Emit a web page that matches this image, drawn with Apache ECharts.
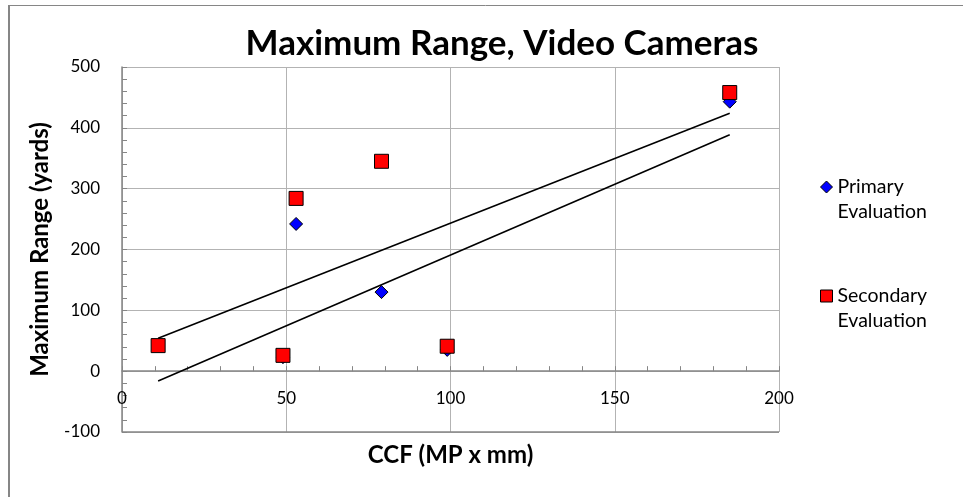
<!DOCTYPE html>
<html>
<head>
<meta charset="utf-8">
<script src="https://cdn.jsdelivr.net/npm/echarts@6/dist/echarts.min.js"></script>
<style>
html,body{margin:0;padding:0;background:#fff;}
#chart{width:963px;height:497px;}
</style>
</head>
<body>
<div id="chart"></div>
<script>
// ---- data ----
const ccf = [11, 49, 53, 79, 99, 185];
const primaryRange = [null, 23, 242, 130, 35, 443];
const secondaryRange = [42, 26, 284, 345, 41, 458];
const seriesNames = ['Primary Evaluation', 'Secondary Evaluation'];
const legendLabels = ['\nPrimary\nEvaluation', '\nSecondary\nEvaluation'];
const chartTitle = 'Maximum Range, Video Cameras';
const xTitle = 'CCF (MP x mm)';
const yTitle = 'Maximum Range (yards)';
const xMin = 0, xMax = 200, xStep = 50;
const yMin = -100, yMax = 500, yStep = 100;

function pairs(xs, ys) {
  const out = [];
  xs.forEach((x, i) => { if (ys[i] !== null && ys[i] !== undefined) out.push([x, ys[i]]); });
  return out;
}
function trend(xs, ys) {
  const p = pairs(xs, ys);
  const n = p.length;
  const mx = p.reduce((s, d) => s + d[0], 0) / n;
  const my = p.reduce((s, d) => s + d[1], 0) / n;
  let sxy = 0, sxx = 0;
  p.forEach(d => { sxy += (d[0] - mx) * (d[1] - my); sxx += (d[0] - mx) * (d[0] - mx); });
  const b = sxy / sxx, a = my - b * mx;
  const x0 = Math.min(...xs), x1 = Math.max(...xs);
  return [[x0, a + b * x0], [x1, a + b * x1]];
}

const FONT = 'Lato';
const W = 963, H = 497;
const gridTop = 67, gridBottom = 65;
const gridH = H - gridTop - gridBottom;
const zeroOffset = -gridH * (0 - yMin) / (yMax - yMin);

const chart = echarts.init(document.getElementById('chart'), null, {renderer: 'canvas'});
const labelMap = {};
seriesNames.forEach((n, i) => labelMap[n] = legendLabels[i]);

const legendCommon = {
  orient: 'vertical',
  left: 820,
  padding: 0,
  itemWidth: 12,
  itemHeight: 12,
  itemStyle: {borderColor: '#000', borderWidth: 1},
  formatter: n => labelMap[n],
  textStyle: {fontFamily: FONT, fontSize: 19.5, color: '#000', lineHeight: 25}
};

chart.setOption({
  animation: false,
  backgroundColor: '#fff',
  title: {
    text: chartTitle,
    left: 497, top: 21,
    textAlign: 'center',
    textStyle: {fontFamily: FONT, fontWeight: 'bold', fontSize: 35, color: '#000'}
  },
  legend: [
    Object.assign({}, legendCommon, {top: 149.5, data: [{name: seriesNames[0], icon: 'diamond'}]}),
    Object.assign({}, legendCommon, {top: 258.5, data: [{name: seriesNames[1], icon: 'rect'}]})
  ],
  graphic: [
    {type: 'line', shape: {x1: 9, y1: 5, x2: 9, y2: 497}, style: {stroke: '#868686', lineWidth: 2}},
    {type: 'line', shape: {x1: 8, y1: 5.5, x2: 963, y2: 5.5}, style: {stroke: '#868686', lineWidth: 1}}
  ],
  grid: {left: 122, right: 184, top: gridTop, bottom: gridBottom, containLabel: false},
  xAxis: {
    type: 'value', min: xMin, max: xMax, interval: xStep,
    position: 'bottom', offset: zeroOffset,
    axisLine: {show: true, onZero: false, lineStyle: {color: '#868686', width: 1.5}},
    axisTick: {show: true, inside: true, length: 5, lineStyle: {color: '#868686'}},
    minorTick: {show: true, splitNumber: 5, length: 5, lineStyle: {color: '#868686'}},
    splitLine: {show: true, lineStyle: {color: '#b3b3b3', width: 1}},
    axisLabel: {fontFamily: FONT, fontSize: 17, color: '#000', margin: 19},
    name: xTitle, nameLocation: 'middle', nameGap: 72,
    nameTextStyle: {fontFamily: FONT, fontWeight: 'bold', fontSize: 24, color: '#000', verticalAlign: 'top'}
  },
  yAxis: {
    type: 'value', min: yMin, max: yMax, interval: yStep,
    axisLine: {show: true, onZero: false, lineStyle: {color: '#868686', width: 1.5}},
    axisTick: {show: true, inside: true, length: 5, lineStyle: {color: '#868686'}},
    minorTick: {show: true, splitNumber: 5, length: 5, lineStyle: {color: '#868686'}},
    splitLine: {show: true, lineStyle: {color: '#b3b3b3', width: 1}},
    axisLabel: {fontFamily: FONT, fontSize: 17, color: '#000', margin: 22},
    name: yTitle, nameLocation: 'middle', nameGap: 70, nameRotate: 90,
    nameTextStyle: {fontFamily: FONT, fontWeight: 'bold', fontSize: 24, color: '#000'}
  },
  series: [
    {
      name: seriesNames[0], type: 'scatter', symbol: 'diamond', symbolSize: 13,
      itemStyle: {color: '#0000ff', borderColor: '#000', borderWidth: 1, opacity: 1},
      data: pairs(ccf, primaryRange), z: 2
    },
    {
      name: seriesNames[1], type: 'scatter', symbol: 'rect', symbolSize: 14,
      itemStyle: {color: '#ff0000', borderColor: '#000', borderWidth: 1, opacity: 1},
      data: pairs(ccf, secondaryRange), z: 3
    },
    {
      name: 'trend1', type: 'line', data: trend(ccf, primaryRange), symbol: 'none', silent: true,
      lineStyle: {color: '#000', width: 1.6}, z: 4,
      markLine: {
        silent: true, symbol: 'none', animation: false,
        label: {show: false},
        lineStyle: {color: '#868686', width: 1.5, type: 'solid'},
        data: [{yAxis: yMin}]
      }
    },
    {
      name: 'trend2', type: 'line', data: trend(ccf, secondaryRange), symbol: 'none', silent: true,
      lineStyle: {color: '#000', width: 1.6}, z: 4
    }
  ]
});
</script>
</body>
</html>
